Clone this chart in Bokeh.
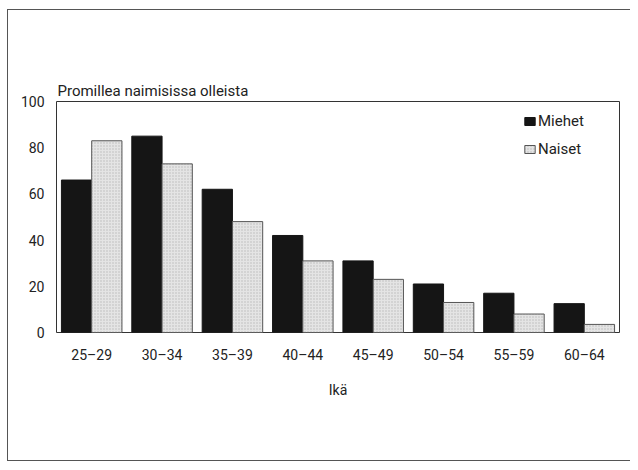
from bokeh.plotting import figure
from bokeh.models import (Range1d, FactorRange, FixedTicker, Legend, LegendItem,
                          ColumnDataSource, Title)
from bokeh.transform import dodge
from bokeh.embed import file_html
from bokeh.resources import INLINE

ages = ["25–29", "30–34", "35–39", "40–44", "45–49", "50–54", "55–59", "60–64"]
miehet = [66, 85, 62, 42, 31, 21, 17, 12.5]
naiset = [83, 73, 48, 31, 23, 13, 8, 3.5]
y_ticks = [0, 20, 40, 60, 80, 100]
y_label = "Promillea naimisissa olleista"
x_label = "Ikä"

FONT = "Roboto"
TXT = "#222222"

src = ColumnDataSource(dict(age=ages, m=miehet, n=naiset))

p = figure(width=630, height=462, x_range=FactorRange(*ages, range_padding=0),
           y_range=Range1d(0, 100), output_backend="svg", toolbar_location=None,
           min_border_left=56, min_border_right=11, min_border_top=101, min_border_bottom=130)
p.outline_line_color = "#333"
p.outline_line_width = 1
p.grid.visible = False
p.background_fill_color = "white"
p.border_fill_color = None

# outer panel box (open on the right), drawn behind the transparent canvas border
p.styles = {
    "background-color": "white",
    "background-image": "linear-gradient(#555,#555), linear-gradient(#555,#555), linear-gradient(#555,#555)",
    "background-position": "7px 9px, 7px 9px, 7px 460px",
    "background-size": "1px 452px, 623px 1px, 623px 1px",
    "background-repeat": "no-repeat",
}

rm = p.vbar(x=dodge("age", -0.215, range=p.x_range), top="m", width=0.43, source=src,
            fill_color="#151515", line_color="#151515")
rn = p.vbar(x=dodge("age", 0.215, range=p.x_range), top="n", width=0.43, source=src,
            fill_color="#e4e4e4", line_color="#555555", line_width=1,
            hatch_pattern="dot", hatch_color="#b8b8b8", hatch_scale=3, hatch_weight=0.6)

for ax in (p.xaxis[0], p.yaxis[0]):
    ax.axis_line_color = None
    ax.major_tick_line_color = None
    ax.minor_tick_line_color = None
    ax.major_tick_out = 0
    ax.major_tick_in = 0
    ax.minor_tick_out = 0
    ax.minor_tick_in = 0
    ax.major_label_text_font = FONT
    ax.major_label_text_font_size = "14px"
    ax.major_label_text_color = TXT

p.yaxis[0].ticker = FixedTicker(ticks=y_ticks)
p.yaxis[0].major_label_standoff = 12
p.xaxis[0].major_label_standoff = 14
p.xaxis[0].axis_label = x_label
p.xaxis[0].axis_label_text_font = FONT
p.xaxis[0].axis_label_text_font_style = "normal"
p.xaxis[0].axis_label_text_font_size = "14px"
p.xaxis[0].axis_label_text_color = TXT
p.xaxis[0].axis_label_standoff = 16

p.add_layout(Title(text=y_label, align="left", offset=1, standoff=3,
                   text_font=FONT, text_font_size="15px", text_font_style="normal",
                   text_color=TXT), "above")

legend = Legend(items=[LegendItem(label="Miehet", renderers=[rm]),
                       LegendItem(label="Naiset", renderers=[rn])],
                location=(467, 173), orientation="vertical",
                padding=0, margin=0, spacing=8, label_standoff=2,
                glyph_width=13, glyph_height=10, label_height=20,
                label_text_font=FONT, label_text_font_size="15px", label_text_color=TXT,
                background_fill_alpha=0, border_line_color=None)
p.add_layout(legend)

open("out.html", "w").write(file_html(p, INLINE))
